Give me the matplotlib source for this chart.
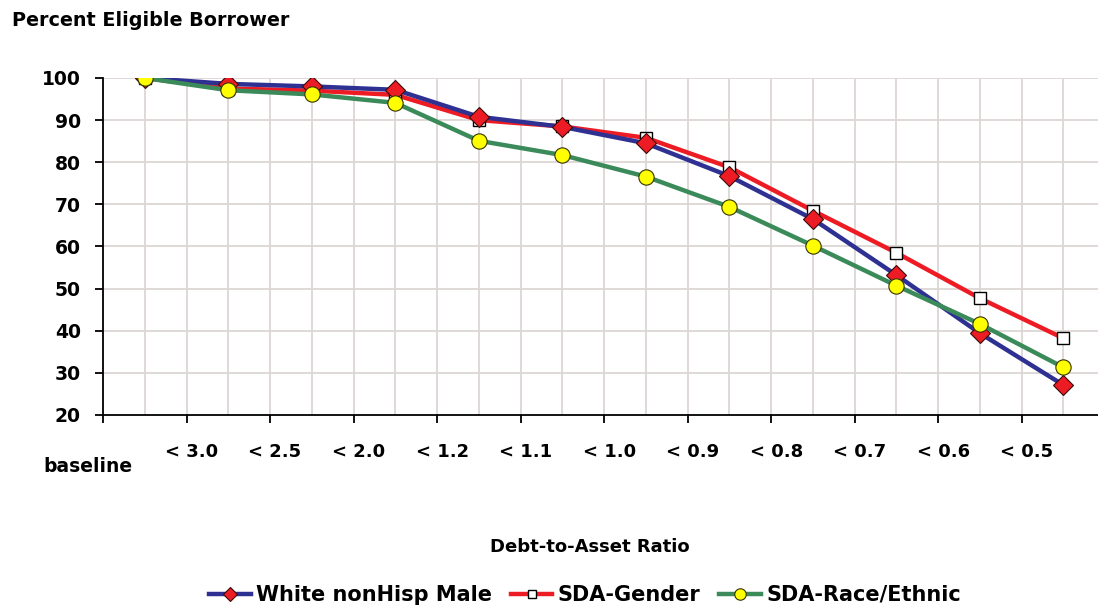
import matplotlib
matplotlib.use("Agg")
import matplotlib.pyplot as plt
import numpy as np

categories = ["baseline", "< 3.0", "< 2.5", "< 2.0", "< 1.2", "< 1.1", "< 1.0",
              "< 0.9", "< 0.8", "< 0.7", "< 0.6", "< 0.5"]
white_male = [100, 98.6, 98.0, 97.2, 90.8, 88.4, 84.5, 76.7, 66.5, 53.2, 39.4, 27.1]
sda_gender = [100, 97.5, 97.0, 96.0, 90.0, 88.5, 85.8, 78.8, 68.5, 58.5, 47.7, 38.2]
sda_race = [100, 97.1, 96.1, 94.1, 85.1, 81.7, 76.6, 69.4, 60.2, 50.7, 41.6, 31.3]
legend_labels = ["White nonHisp Male", "SDA-Gender", "SDA-Race/Ethnic"]

plt.rcParams['font.family'] = ['DejaVu Sans']

fig = plt.figure(figsize=(10.98, 6.07), dpi=100)
ax = fig.add_axes([103/1098, 1-415/607, 1-103/1098, (415-78)/607])

x = np.arange(len(categories))
grid_c = "#dcd6d4"
for g in np.arange(-0.5, len(categories) + 0.5, 0.5):
    ax.axvline(g, color=grid_c, lw=1.3, zorder=0)
for g in range(30, 101, 10):
    ax.axhline(g, color=grid_c, lw=1.3, zorder=0)

lw = 3.2
l1, = ax.plot(x, white_male, color="#2e3192", lw=lw, marker="D", ms=10,
              mfc="#ed1c24", mec="#3a0a0a", mew=0.8, zorder=4)
l2, = ax.plot(x, sda_gender, color="#ed1c24", lw=lw, marker="s", ms=8.5,
              mfc="white", mec="black", mew=1.0, zorder=3)
l3, = ax.plot(x, sda_race, color="#3b8a5a", lw=lw, marker="o", ms=11,
              mfc="#ffff00", mec="#333300", mew=0.8, zorder=5)

ax.set_xlim(-0.5, (1098 - 145) / 83.5)
ax.set_ylim(20, 100)
ax.set_yticks(range(20, 101, 10))
ax.set_yticklabels([str(v) for v in range(20, 101, 10)], fontsize=13.5, fontweight="bold")
ax.set_xticks(np.arange(-0.5, len(categories) - 0.5, 1.0))
ax.set_xticklabels([])
ax.tick_params(axis="both", direction="out", length=6, width=1.3, color="black")
ax.tick_params(axis="y", pad=10)
for s in ["top", "right"]:
    ax.spines[s].set_visible(False)
ax.spines["left"].set_linewidth(1.3)
ax.spines["bottom"].set_linewidth(1.3)

# category labels
for i, c in enumerate(categories):
    if i == 0:
        fig.text(88/1098, 1-467/607, c, ha="center", va="center", fontsize=13.5, fontweight="bold")
    else:
        ax.text(i - 0.5 + 0.06, -0.11, c, transform=ax.get_xaxis_transform(), ha="center", va="center",
                fontsize=13, fontweight="bold")

fig.text(12/1098, 1-20/607, "Percent Eligible Borrower", ha="left", va="center",
         fontsize=13.8, fontweight="bold")
fig.text(590/1098, 1-547/607, "Debt-to-Asset Ratio", ha="center", va="center",
         fontsize=13, fontweight="bold")

fig.legend([l1, l2, l3], legend_labels, loc="center", bbox_to_anchor=(585/1098, 1-595/607),
           ncol=3, frameon=False, prop={"size": 15, "weight": "bold"},
           handlelength=2.0, handletextpad=0.25, columnspacing=0.9, markerscale=0.75,
           borderpad=0.1)

fig.savefig("out.png", dpi=100)
